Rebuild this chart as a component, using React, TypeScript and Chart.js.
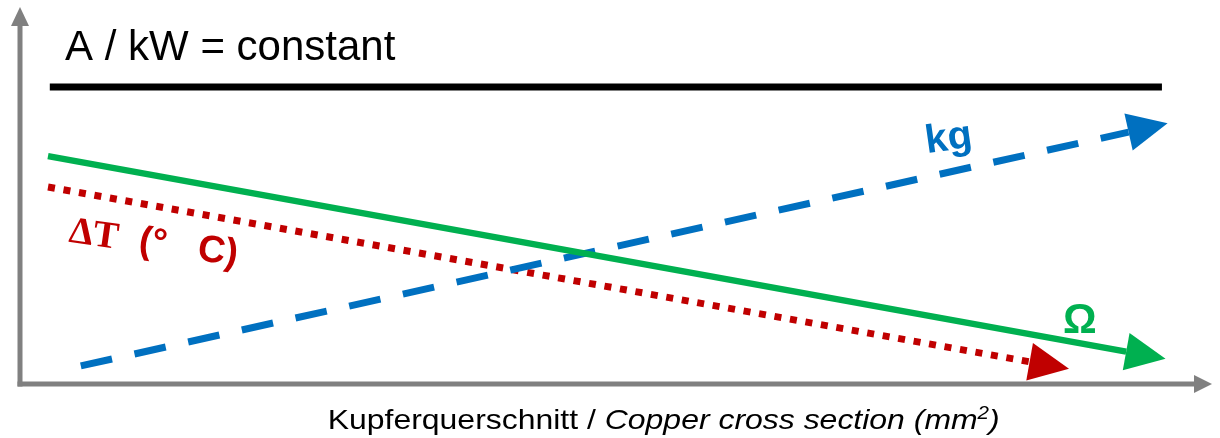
import React, { useEffect, useRef } from "react";
import { Chart, registerables } from "chart.js";

Chart.register(...registerables);

// ---- data (relative units, 0..100 on both axes) ----
const constantX = [2.5, 95.8];
const constantY = [79.0, 79.0];

const resistanceX = [2.35, 92.8];
const resistanceY = [60.6, 8.6];

const temperatureX = [2.35, 84.7];
const temperatureY = [52.4, 5.9];

const massX = [5.1, 93.0];
const massY = [4.8, 67.0];

// label anchors (data units)
const titleText = "A / kW = constant";
const titlePos = [3.78, 86.2];
const kgText = "kg";
const kgPos = [76.1, 61.4];
const omegaText = "Ω";
const omegaPos = [87.5, 13.6];
const deltaParts = ["ΔT", "  (°", "   C)"];
const deltaPos = [4.03, 37.8];
const xTitleParts = ["Kupferquerschnitt / ", "Copper cross section (mm", "2", ")"];
const xTitleCenter = 54.0;

const GREEN = "#00B050";
const RED = "#C00000";
const BLUE = "#0070C0";
const GRAY = "#808080";
const SANS = '"Liberation Sans", Arial, sans-serif';
const SERIF = '"Liberation Serif", "Times New Roman", serif';

const pts = (xs: number[], ys: number[]) => xs.map((x, i) => ({ x, y: ys[i] }));

const axesPlugin = {
  id: "axesArrows",
  beforeDatasetsDraw(chart: any) {
    const { ctx, chartArea } = chart;
    const { left, top, right, bottom } = chartArea;
    ctx.save();
    ctx.strokeStyle = GRAY;
    ctx.fillStyle = GRAY;
    ctx.lineWidth = 5;
    ctx.lineCap = "butt";
    // y axis
    ctx.beginPath();
    ctx.moveTo(left, bottom + 2.5);
    ctx.lineTo(left, top + 16);
    ctx.stroke();
    ctx.beginPath();
    ctx.moveTo(left, top - 1);
    ctx.lineTo(left - 9, top + 18);
    ctx.lineTo(left + 9, top + 18);
    ctx.closePath();
    ctx.fill();
    // x axis
    ctx.beginPath();
    ctx.moveTo(left - 2.5, bottom);
    ctx.lineTo(right - 16, bottom);
    ctx.stroke();
    ctx.beginPath();
    ctx.moveTo(right, bottom);
    ctx.lineTo(right - 18, bottom - 9);
    ctx.lineTo(right - 18, bottom + 9);
    ctx.closePath();
    ctx.fill();
    ctx.restore();
  },
};

const arrowPlugin = {
  id: "lineArrows",
  afterDatasetsDraw(chart: any) {
    const ctx = chart.ctx;
    const order = chart.data.datasets
      .map((ds: any, i: number) => ({ ds, i }))
      .filter((o: any) => o.ds.arrow)
      .sort((a: any, b: any) => (b.ds.order ?? 0) - (a.ds.order ?? 0));
    order.forEach(({ ds, i }: any) => {
      const meta = chart.getDatasetMeta(i);
      const p = meta.data;
      const a = p[p.length - 2];
      const b = p[p.length - 1];
      const dx = b.x - a.x;
      const dy = b.y - a.y;
      const len = Math.hypot(dx, dy);
      const ux = dx / len;
      const uy = dy / len;
      const L = 40;
      const W = 19;
      ctx.save();
      ctx.fillStyle = ds.borderColor;
      ctx.beginPath();
      ctx.moveTo(b.x + ux * L, b.y + uy * L);
      ctx.lineTo(b.x - uy * W, b.y + ux * W);
      ctx.lineTo(b.x + uy * W, b.y - ux * W);
      ctx.closePath();
      ctx.fill();
      ctx.restore();
    });
  },
};

const labelsPlugin = {
  id: "labels",
  afterDraw(chart: any) {
    const { ctx, scales, chartArea } = chart;
    const X = (v: number) => scales.x.getPixelForValue(v);
    const Y = (v: number) => scales.y.getPixelForValue(v);
    ctx.save();
    ctx.textBaseline = "alphabetic";
    ctx.textAlign = "left";

    // title
    ctx.fillStyle = "#000";
    ctx.font = `42px ${SANS}`;
    ctx.fillText(titleText, X(titlePos[0]), Y(titlePos[1]));

    // kg
    ctx.save();
    ctx.translate(X(kgPos[0]), Y(kgPos[1]));
    ctx.rotate((-8 * Math.PI) / 180);
    ctx.fillStyle = BLUE;
    ctx.font = `bold 40px ${SANS}`;
    ctx.fillText(kgText, 0, 0);
    ctx.restore();

    // omega
    ctx.fillStyle = GREEN;
    ctx.font = `bold 42px ${SANS}`;
    ctx.fillText(omegaText, X(omegaPos[0]), Y(omegaPos[1]));

    // delta T
    ctx.save();
    ctx.translate(X(deltaPos[0]), Y(deltaPos[1]));
    ctx.rotate((8 * Math.PI) / 180);
    ctx.fillStyle = RED;
    const dFonts = [`bold 38px ${SERIF}`, `bold 38px ${SANS}`, `bold 38px ${SANS}`];
    let cx = 0;
    deltaParts.forEach((t, k) => {
      ctx.font = dFonts[k];
      ctx.fillText(t, cx, 0);
      cx += ctx.measureText(t).width;
    });
    ctx.restore();

    // x axis title
    const fonts = [
      `28px ${SANS}`,
      `italic 28px ${SANS}`,
      `italic 18px ${SANS}`,
      `italic 28px ${SANS}`,
    ];
    const rises = [0, 0, 10, 0];
    let total = 0;
    const widths = xTitleParts.map((t, k) => {
      ctx.font = fonts[k];
      const w = ctx.measureText(t).width;
      total += w;
      return w;
    });
    const target = 672;
    const sx = target / total;
    ctx.save();
    ctx.translate(X(xTitleCenter) - target / 2, chartArea.bottom + 45);
    ctx.scale(sx, 1);
    ctx.fillStyle = "#000";
    let px = 0;
    xTitleParts.forEach((t, k) => {
      ctx.font = fonts[k];
      ctx.fillText(t, px, -rises[k]);
      px += widths[k];
    });
    ctx.restore();

    ctx.restore();
  },
};

export default function App() {
  const ref = useRef<HTMLCanvasElement | null>(null);

  useEffect(() => {
    document.body.style.margin = "0";
    if (!ref.current) return;
    const chart = new Chart(ref.current, {
      type: "line",
      data: {
        datasets: [
          {
            label: "Ω",
            data: pts(resistanceX, resistanceY),
            borderColor: GREEN,
            borderWidth: 6.5,
            pointRadius: 0,
            borderCapStyle: "butt",
            order: 0,
            arrow: true,
          } as any,
          {
            label: "kg",
            data: pts(massX, massY),
            borderColor: BLUE,
            borderWidth: 7,
            borderDash: [32, 23],
            borderCapStyle: "butt",
            pointRadius: 0,
            order: 1,
            arrow: true,
          } as any,
          {
            label: "ΔT",
            data: pts(temperatureX, temperatureY),
            borderColor: RED,
            borderWidth: 7,
            borderDash: [7, 8.7],
            borderCapStyle: "butt",
            pointRadius: 0,
            order: 2,
            arrow: true,
          } as any,
          {
            label: "A / kW",
            data: pts(constantX, constantY),
            borderColor: "#000",
            borderWidth: 7,
            borderCapStyle: "butt",
            pointRadius: 0,
            order: 3,
          } as any,
        ],
      },
      options: {
        animation: false,
        responsive: true,
        maintainAspectRatio: false,
        layout: { padding: { left: 20, top: 8, right: 8, bottom: 54 } },
        scales: {
          x: { type: "linear", min: 0, max: 100, display: false },
          y: { type: "linear", min: 0, max: 100, display: false },
        },
        plugins: {
          legend: { display: false },
          tooltip: { enabled: false },
        },
        elements: { line: { tension: 0, fill: false } },
      },
      plugins: [axesPlugin, arrowPlugin, labelsPlugin],
    });
    return () => chart.destroy();
  }, []);

  return (
    <div style={{ width: 1220, height: 438, position: "relative", background: "#fff" }}>
      <canvas ref={ref} />
    </div>
  );
}
